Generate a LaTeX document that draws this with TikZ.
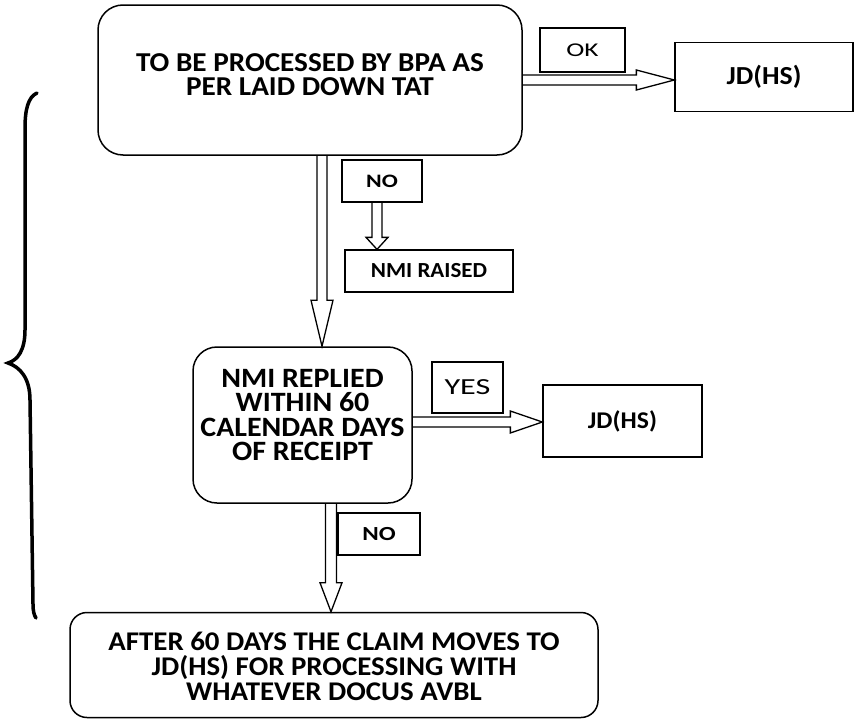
\documentclass[tikz,border=0pt]{standalone}
\usepackage{fontspec}
\setmainfont[FakeStretch=1.07]{Carlito}
\newfontfamily\widerfont[FakeStretch=1.4]{Carlito}
\newfontfamily\widebfont[FakeStretch=1.25]{Carlito}
\usetikzlibrary{calc}
\newcommand{\HArrow}[5]{\draw[hollow] let \p1=#1, \p2=#2 in (\x1,\y1+#3pt) -- (\x2-#5pt,\y1+#3pt) -- (\x2-#5pt,\y1+#4pt) -- (\x2,\y1) -- (\x2-#5pt,\y1-#4pt) -- (\x2-#5pt,\y1-#3pt) -- (\x1,\y1-#3pt);}
\newcommand{\VArrow}[5]{\draw[hollow] let \p1=#1, \p2=#2 in (\x1-#3pt,\y1) -- (\x1-#3pt,\y2+#5pt) -- (\x1-#4pt,\y2+#5pt) -- (\x1,\y2) -- (\x1+#4pt,\y2+#5pt) -- (\x1+#3pt,\y2+#5pt) -- (\x1+#3pt,\y1);}
\begin{document}
\begin{tikzpicture}[x=1pt,y=1pt,
  rbox/.style={draw, line width=1.5pt, inner sep=0pt},
  sbox/.style={draw, line width=1.3pt, inner sep=0pt, align=center},
  hollow/.style={line width=1.3pt, line join=miter},
  btext/.style={font=\bfseries\fontsize{28}{24.5}\selectfont, align=center, inner sep=0pt},
  ctext/.style={font=\bfseries\fontsize{27}{25}\selectfont, align=center, inner sep=0pt},
  brace/.style={line width=3.5pt, line cap=round}]
\useasboundingbox[fill=white] (0,0) rectangle (856,-720);

% boxes
\node[rbox, rounded corners=25pt, minimum width=424pt, minimum height=150pt] (top) at (310,-80) {};
\node[btext, font=\bfseries\fontsize{27.3}{24}\selectfont] (topT) at (310,-75) {TO BE PROCESSED BY BPA AS\\PER LAID DOWN TAT};
\node[sbox, minimum width=85pt, minimum height=44pt, font=\widerfont\fontsize{19.5}{24}\selectfont] (ok) at (582.5,-50) {OK};
\node[sbox, minimum width=178pt, minimum height=69pt, font=\bfseries\fontsize{26}{28}\selectfont] (jd1) at (764,-77) {JD(HS)};
\node[sbox, minimum width=80pt, minimum height=42pt, font=\widebfont\bfseries\fontsize{19}{22}\selectfont] (no1) at (382,-181) {NO};
\node[sbox, minimum width=168pt, minimum height=42pt, font=\bfseries\fontsize{21.5}{24}\selectfont] (nmi) at (429,-271) {NMI RAISED};
\node[rbox, rounded corners=24pt, minimum width=219pt, minimum height=156pt] (mid) at (302.5,-425) {};
\node[btext] (midT) at (302.5,-415) {NMI REPLIED\\WITHIN 60\\CALENDAR DAYS\\OF RECEIPT};
\node[sbox, minimum width=71pt, minimum height=51pt, font=\widerfont\fontsize{23}{26}\selectfont] (yes) at (467.5,-387.5) {YES};
\node[sbox, minimum width=159pt, minimum height=72pt, font=\bfseries\fontsize{24}{26}\selectfont] (jd2) at (622.5,-421) {JD(HS)};
\node[sbox, minimum width=82pt, minimum height=42pt, font=\widebfont\bfseries\fontsize{20}{22}\selectfont] (no2) at (379,-534) {NO};
\node[rbox, rounded corners=17pt, minimum width=528pt, minimum height=105pt] (bot) at (334,-665) {};
\node[ctext] (botT) at (334,-666) {AFTER 60 DAYS THE CLAIM MOVES TO\\JD(HS) FOR PROCESSING WITH\\WHATEVER DOCUS AVBL};

% arrow guide coordinates
\coordinate (a1) at (322,0);
\coordinate (a2) at (377,0);
\coordinate (a3) at (331,0);

% arrows
\HArrow{(top.east)}{(jd1.west)}{5}{10}{38}
\VArrow{(top.south -| a1)}{(mid.north -| a1)}{5}{11}{46}
\VArrow{(no1.south -| a2)}{(nmi.north -| a2)}{5}{11}{12}
\HArrow{($(mid.east)+(0,3)$)}{(jd2.west)}{5}{11}{32}
\VArrow{(mid.south -| a3)}{(bot.north -| a3)}{5.5}{11}{29}

% brace
\coordinate (b1) at (37,-93);
\coordinate (b2) at (8,-363);
\coordinate (b3) at (36,-618);
\draw[brace] (b1) .. controls (28,-97) and (25,-110) .. (25,-128) -- (25,-330)
  .. controls (25,-350) and (18,-360) .. (b2)
  .. controls (20,-367) and (30,-378) .. (30,-400) -- (33,-604)
  .. controls (33,-611) and (34,-615) .. (b3);
\end{tikzpicture}
\end{document}
